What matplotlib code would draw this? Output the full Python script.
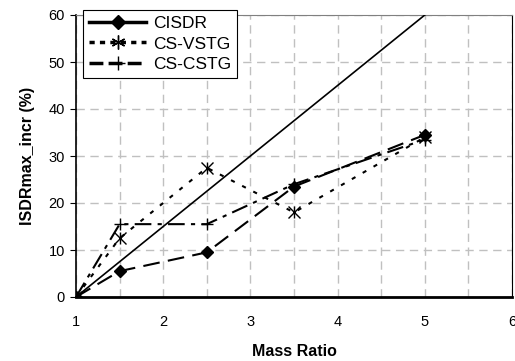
import matplotlib
matplotlib.use("Agg")
from matplotlib import pyplot as plt
from matplotlib.lines import Line2D

plt.rcParams['font.family'] = ['Liberation Sans', 'DejaVu Sans']

# data
mass_ratio = [1, 1.5, 2.5, 3.5, 5]
cisdr = [0, 5.5, 9.5, 23.5, 34.5]
cs_vstg = [0, 12.5, 27.5, 18, 34]
cs_cstg = [0, 15.5, 15.5, 24, 33.5]
ref_x = [1, 5]
ref_y = [0, 60]

fig = plt.figure(figsize=(5.15, 3.61), dpi=100)
ax = fig.add_axes([76 / 515, 1 - 297 / 361, 436 / 515, 282 / 361])

# reference line
ax.plot(ref_x, ref_y, color='black', lw=1.2, zorder=3)

ax.plot(mass_ratio, cisdr, color='black', lw=1.5, dashes=(8, 4),
        marker='D', ms=6, mfc='black', zorder=4)
ax.plot(mass_ratio, cs_vstg, color='black', lw=1.5, dashes=(2, 4),
        marker='x', ms=8, mew=1, zorder=4)
ax.plot(mass_ratio, cs_vstg, ls='none', marker='|', ms=9, mew=1,
        color='black', zorder=4)
ax.plot(mass_ratio, cs_cstg, color='black', lw=1.5, dashes=(8, 3, 2, 3),
        marker='+', ms=9, mew=1, zorder=4)

# legend proxies
h1 = Line2D([], [], color='black', lw=2.5, marker='D', ms=7, label='CISDR')
h2 = Line2D([], [], color='black', lw=2.5, dashes=(1.5, 1.5), marker=(6, 2, 0), ms=10, mew=1, label='CS-VSTG')
h3 = Line2D([], [], color='black', lw=2.5, dashes=(4, 1.5), marker='+', ms=10, mew=1, label='CS-CSTG')
leg = ax.legend(handles=[h1, h2, h3], loc='upper left', bbox_to_anchor=(0.016, 1.018),
                fancybox=False, edgecolor='black', framealpha=1, fontsize=12.5,
                handlelength=3.3, borderpad=0.35, labelspacing=0.3, handletextpad=0.4,
                borderaxespad=0)
leg.get_frame().set_linewidth(0.8)
leg.set_zorder(5)

ax.set_xlim(1, 6)
ax.set_ylim(0, 60)
ax.set_xticks([1, 2, 3, 4, 5, 6])
ax.set_yticks([0, 10, 20, 30, 40, 50, 60])
ax.set_xticks([1.5, 2.5, 3.5, 4.5, 5.5], minor=True)
ax.grid(True, which='both', color='#c0c0c0', ls=(0, (6, 4)), lw=1)
ax.tick_params(which='minor', length=0)
ax.tick_params(labelsize=10.5, direction='out')
ax.tick_params(axis='y', length=4, pad=4)
ax.tick_params(axis='x', length=0, pad=13)
ax.set_axisbelow(True)

ax.spines['bottom'].set_linewidth(2)
ax.spines['left'].set_linewidth(1.2)
ax.spines['top'].set_color('#808080')
ax.spines['right'].set_linewidth(0.8)

ax.set_xlabel('Mass Ratio', fontsize=11.5, fontweight='bold', labelpad=11)
ax.set_ylabel('ISDRmax_incr (%)', fontsize=11.5, fontweight='bold', labelpad=10)

fig.savefig('out.png', dpi=100)
